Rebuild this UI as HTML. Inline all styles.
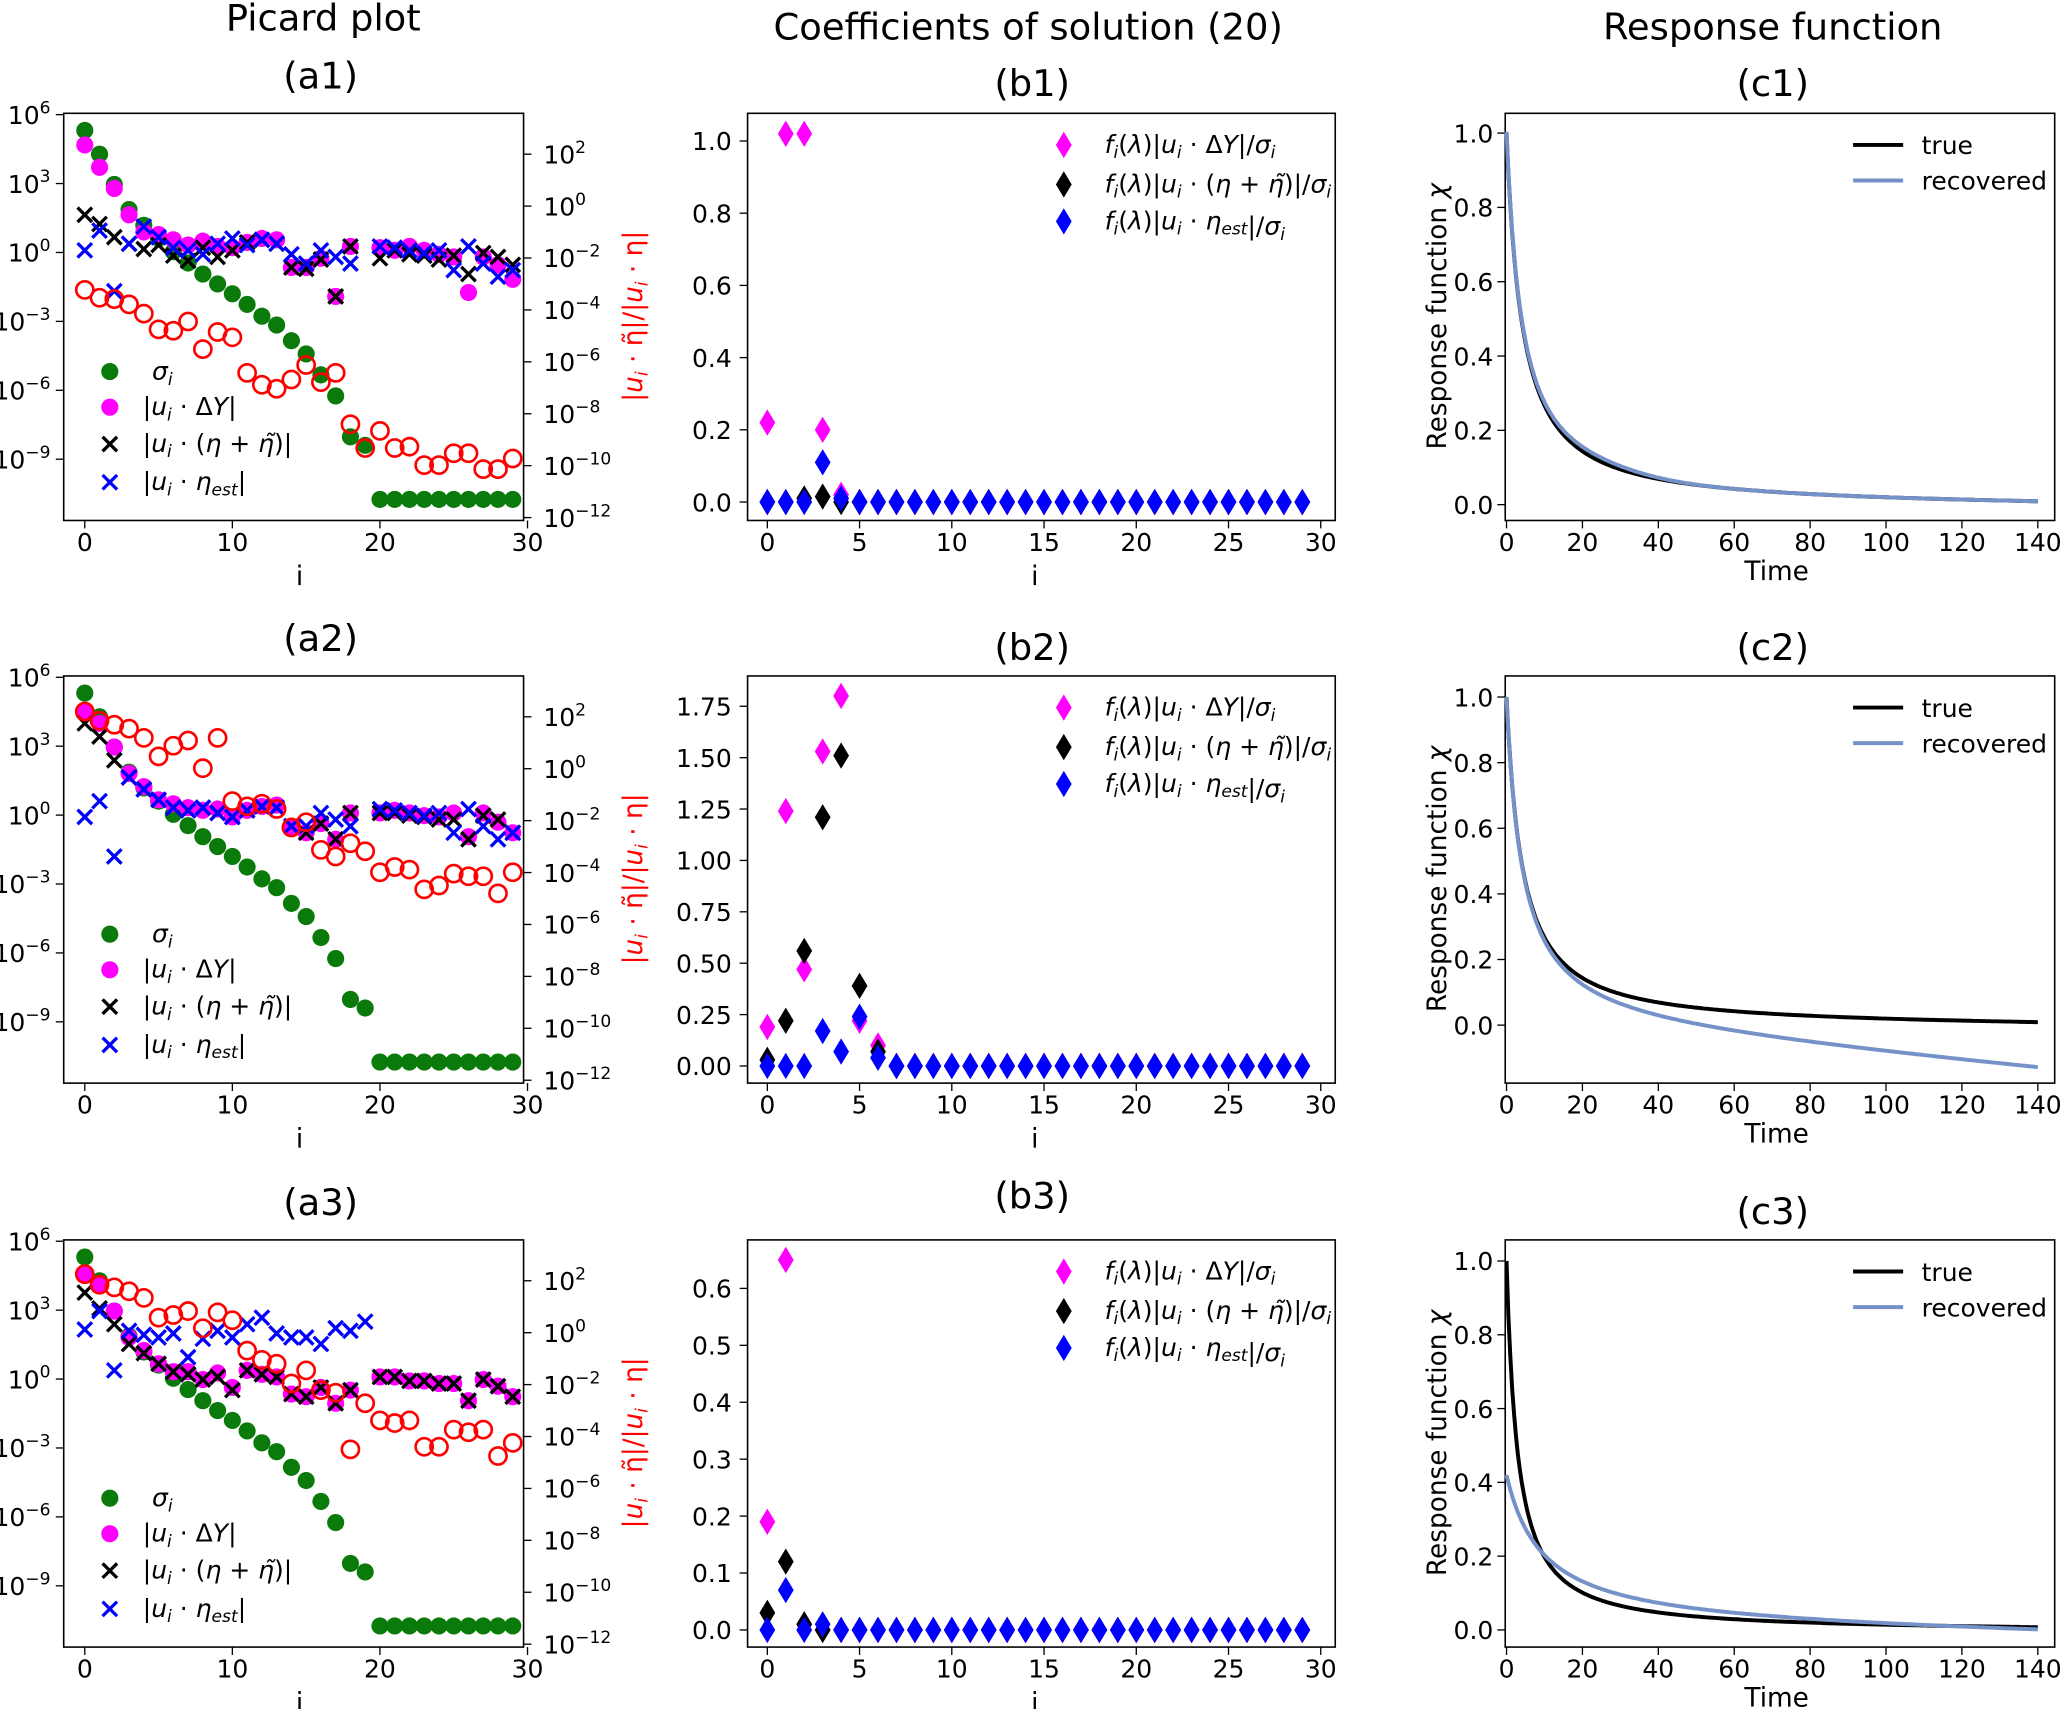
<!DOCTYPE html>
<html><head><meta charset="utf-8"><style>
html,body{margin:0;padding:0;background:#fff}
svg{display:block}
text{font-family:"DejaVu Sans","Liberation Sans",sans-serif;fill:#000}
</style></head><body>
<svg id="s" width="2067" height="1709" viewBox="0 0 1568 1297" xmlns="http://www.w3.org/2000/svg">
<g font-size="28" text-anchor="middle">
<text x="245" y="23">Picard plot</text>
<text x="780" y="30">Coefficients of solution (20)</text>
<text x="1345" y="30">Response function</text>
<text x="243" y="67">(a1)</text><text x="783" y="73">(b1)</text><text x="1345" y="73">(c1)</text>
<text x="243" y="494">(a2)</text><text x="783" y="501">(b2)</text><text x="1345" y="501">(c2)</text>
<text x="243" y="922">(a3)</text><text x="783" y="917">(b3)</text><text x="1345" y="929">(c3)</text>
</g>
<g id="g"></g>
</svg>
<script>
var g=document.getElementById('g'),h='';
function T(x,y,s,o){h+='<text x="'+x+'" y="'+y+'" '+(o||'')+'>'+s+'</text>';}
var offs=[0,427,855];
var green=[99,117,140,159,171,181,191,199.6,208,215.5,223,231,240,246.7,258.6,268.6,284.5,300.5,331.5,338,379,379,379,379,379,379,379,379,379,379];
var mag=[[110,127,143,163,176,178,182,186,183,187,188,184,181,182,203,203,196,225,187,null,188,190,187,190,193,195,222,195,201,212],
[113,122,140,160,170,180,183,186,188,187,193,188,185,184,200,205,198,210,190,null,190,188,190,192,193,190,208,190,197,205],
[113,120,140,160,170,180,186,186,192,187,198,185,188,190,203,205,198,210,200,null,190,190,193,193,195,195,208,192,197,205]];
var blk=[[163,170,180,185,189,186,194,198,188,195,190,184,182,185,203,204,197,225,187,null,196,190,193,194,197,194,208,192,195,201],
[122,132,150,163,172,180,186,188,186,190,193,188,185,186,200,205,198,210,190,null,190,190,192,193,195,195,210,192,195,205],
[126,138,150,165,172,180,186,188,192,190,200,185,188,190,203,205,198,210,200,null,190,190,193,193,195,195,208,192,197,205]];
var blu=[[190,175,221,185,172,180,188,190,193,185,181,186,182,185,193,200,190,195,200,null,187,188,190,192,190,205,187,200,210,205],
[193,181,223,163,172,180,186,188,186,190,193,188,185,186,200,200,190,195,200,null,187,188,190,192,190,205,187,200,210,205],
[154,140,185,155,158,160,157,175,161,155,160,150,145,157,160,160,165,153,155,148]];
var red=[[220,226,227,231,238,250,251,244,265,252,256,283,292,295,288,277,290,283,322,340,327,340,339,353,353,344,344,356,356,348],
[113,120,123,126,133,147,139,135,156,133,181,185,183,187,201,197,218,223,213,219,235,231,233,248,245,236,238,238,251,235],
[112,120,122,125,130,145,143,140,153,141,147,170,177,180,195,185,200,202,245,210,223,225,223,243,243,230,232,230,250,240]];
function X(i){return 64+11.2*i;}
function circ(x,y,c,f){return '<circle cx="'+x+'" cy="'+y+'" r="6.5" fill="'+(f?c:'none')+'" stroke="'+c+'" stroke-width="'+(f?0:2)+'"/>';}
function cross(x,y,c){var d=5.5;return '<path d="M'+(x-d)+' '+(y-d)+'L'+(x+d)+' '+(y+d)+'M'+(x-d)+' '+(y+d)+'L'+(x+d)+' '+(y-d)+'" stroke="'+c+'" stroke-width="2.5"/>';}
function dia(x,y,c){return '<path d="M'+x+' '+(y-10)+'L'+(x+6)+' '+y+'L'+x+' '+(y+10)+'L'+(x-6)+' '+y+'Z" fill="'+c+'"/>';}
var sup=['6','3','0','−3','−6','−9'],rs=['2','0','−2','−4','−6','−8','−10','−12'];
for(var p=0;p<3;p++){var o=offs[p];
 h+='<rect x="48" y="'+(86+o)+'" width="349" height="309" fill="none" stroke="#000" stroke-width="1.2"/>';
 for(var k=0;k<6;k++){var y=87+k*52.3+o;h+='<line x1="48" x2="42" y1="'+y+'" y2="'+y+'" stroke="#000"/>';T(38,y+7,'10<tspan dy="-8" font-size="13">'+sup[k]+'</tspan>','font-size="19" text-anchor="end"');}
 for(var k=0;k<8;k++){var y=117+k*39.4+o;h+='<line x1="397" x2="403" y1="'+y+'" y2="'+y+'" stroke="#000"/>';T(412,y+7,'10<tspan dy="-8" font-size="13">'+rs[k]+'</tspan>','font-size="19"');}
 for(var k=0;k<4;k++){var x=X(k*10);h+='<line x1="'+x+'" x2="'+x+'" y1="'+(395+o)+'" y2="'+(401+o)+'" stroke="#000"/>';T(x,418+o,k*10,'font-size="19" text-anchor="middle"');}
 T(227,444+o,'i','font-size="20" text-anchor="middle"');
 T(0,0,'|<tspan font-style="italic">u<tspan font-size="13" dy="4">i</tspan></tspan><tspan dy="-4"> · η̃|/|</tspan><tspan font-style="italic">u<tspan font-size="13" dy="4">i</tspan></tspan><tspan dy="-4"> · η|</tspan>','font-size="20" fill="red" style="fill:red" text-anchor="middle" transform="translate(487,'+(240+o)+') rotate(-90)"');
 for(var i=0;i<30;i++){h+=circ(X(i),green[i]+o,'#0a7a0a',1);}
 for(var i=0;i<30;i++){if(mag[p][i]!=null)h+=circ(X(i),mag[p][i]+o,'#f0f',1);}
 for(var i=0;i<30;i++){if(blk[p][i]!=null)h+=cross(X(i),blk[p][i]+o,'#000');}
 for(var i=0;i<blu[p].length;i++){if(blu[p][i]!=null)h+=cross(X(i),blu[p][i]+o,'#00f');}
 for(var i=0;i<30;i++){h+=circ(X(i),red[p][i]+o,'red',0);}
 var ly=[282,309,337,366];
 h+=circ(83,ly[0]+o,'#0a7a0a',1)+circ(83,ly[1]+o,'#f0f',1)+cross(83,ly[2]+o,'#000')+cross(83,ly[3]+o,'#00f');
 T(115,ly[0]+6+o,'σ<tspan font-size="13" dy="4">i</tspan>','font-size="19" font-style="italic"');
 T(108,ly[1]+6+o,'|<tspan font-style="italic">u</tspan><tspan font-size="13" dy="4" font-style="italic">i</tspan><tspan dy="-4"> · Δ</tspan><tspan font-style="italic">Y</tspan>|','font-size="19"');
 T(108,ly[2]+6+o,'|<tspan font-style="italic">u</tspan><tspan font-size="13" dy="4" font-style="italic">i</tspan><tspan dy="-4"> · (</tspan><tspan font-style="italic">η</tspan> + <tspan font-style="italic">η̃</tspan>)|','font-size="19"');
 T(108,ly[3]+6+o,'|<tspan font-style="italic">u</tspan><tspan font-size="13" dy="4" font-style="italic">i</tspan><tspan dy="-4"> · </tspan><tspan font-style="italic">η</tspan><tspan font-size="13" dy="4" font-style="italic">est</tspan><tspan dy="-4">|</tspan>','font-size="19"');
}
var bY=[{z:381,s:274,t:[0,0.2,0.4,0.6,0.8,1.0],f:1},{z:809,s:156,t:[0,0.25,0.5,0.75,1,1.25,1.5,1.75],f:2},{z:1237,s:432,t:[0,0.1,0.2,0.3,0.4,0.5,0.6],f:1}];
var bm=[[0.22,1.02,1.02,0.2,0.02],[0.19,1.24,0.47,1.53,1.8,0.22,0.1],[0.19,0.65,0.01]];
var bk=[[0,0,0.01,0.015],[0.03,0.22,0.56,1.21,1.51,0.39,0.07],[0.03,0.12,0.01,0]];
var bb=[[0,0,0,0.11,0.01],[0,0,0,0.17,0.07,0.24,0.04],[0,0.07,0,0.01]];
function BX(i){return 582+14*i;}
for(var p=0;p<3;p++){var o=offs[p],B=bY[p];
 h+='<rect x="567" y="'+(86+o)+'" width="446" height="309" fill="none" stroke="#000" stroke-width="1.2"/>';
 B.t.forEach(function(v){var y=B.z-v*B.s;h+='<line x1="567" x2="561" y1="'+y+'" y2="'+y+'" stroke="#000"/>';T(555,y+7,v.toFixed(B.f),'font-size="19" text-anchor="end"');});
 for(var k=0;k<7;k++){var x=BX(k*5);h+='<line x1="'+x+'" x2="'+x+'" y1="'+(395+o)+'" y2="'+(401+o)+'" stroke="#000"/>';T(x,418+o,k*5,'font-size="19" text-anchor="middle"');}
 T(785,444+o,'i','font-size="20" text-anchor="middle"');
 for(var i=0;i<30;i++)h+=dia(BX(i),B.z-(bm[p][i]||0)*B.s,'#f0f');
 for(var i=0;i<30;i++)h+=dia(BX(i),B.z-(bk[p][i]||0)*B.s,'#000');
 for(var i=0;i<30;i++)h+=dia(BX(i),B.z-(bb[p][i]||0)*B.s,'#00f');
 var ly=[110,140,168],c=['#f0f','#000','#00f'];
 var pre='<tspan font-style="italic">f</tspan><tspan font-size="13" dy="4" font-style="italic">i</tspan><tspan dy="-4">(</tspan><tspan font-style="italic">λ</tspan>)|<tspan font-style="italic">u</tspan><tspan font-size="13" dy="4" font-style="italic">i</tspan><tspan dy="-4"> · </tspan>';
 var post='|/<tspan font-style="italic">σ</tspan><tspan font-size="13" dy="4" font-style="italic">i</tspan>';
 var mid=['Δ<tspan font-style="italic">Y</tspan>','(<tspan font-style="italic">η</tspan> + <tspan font-style="italic">η̃</tspan>)','<tspan font-style="italic">η</tspan><tspan font-size="13" dy="4" font-style="italic">est</tspan><tspan dy="-4"></tspan>'];
 for(var k=0;k<3;k++){h+=dia(807,ly[k]+o,c[k]);T(838,ly[k]+6+o,pre+mid[k]+post,'font-size="19"');}
}
var cY=[{z:383,s:282,t:[0,0.2,0.4,0.6,0.8,1.0]},{z:778,s:249,t:[0,0.2,0.4,0.6,0.8,1.0]},{z:1237,s:280,t:[0,0.2,0.4,0.6,0.8,1.0]}];
function CX(t){return 1143+2.88*t;}
function tru(t){return Math.pow(1+t/5,-1.2)-0.00006*t;}
function tru3(t){return Math.pow(1+t/3.5,-1.2)-0.00003*t;}
var trs=[tru,tru,tru3];
var rec=[function(t){return tru(t)+0.012*Math.exp(-Math.pow((t-20)/18,2));},function(t){return tru(t)-0.00098*t;},function(t){return 0.42/(1+t/9.5)-0.00018*t;}];
for(var p=0;p<3;p++){var C=cY[p];var o=offs[p];
 h+='<rect x="1142" y="'+(86+o)+'" width="417" height="309" fill="none" stroke="#000" stroke-width="1.2"/>';
 C.t.forEach(function(v){var y=C.z-v*C.s;h+='<line x1="1142" x2="1136" y1="'+y+'" y2="'+y+'" stroke="#000"/>';T(1133,y+7,v.toFixed(1),'font-size="19" text-anchor="end"');});
 for(var k=0;k<8;k++){var x=CX(k*20);h+='<line x1="'+x+'" x2="'+x+'" y1="'+(395+o)+'" y2="'+(401+o)+'" stroke="#000"/>';T(x,418+o,k*20,'font-size="19" text-anchor="middle"');}
 T(1348,440+o,'Time','font-size="20" text-anchor="middle"');
 T(0,0,'Response function <tspan font-style="italic">χ</tspan>','font-size="20" text-anchor="middle" transform="translate(1097,'+(240+o)+') rotate(-90)"');
 var a='',b='';
 for(var t=0;t<=140;t+=0.5){a+=(t?'L':'M')+CX(t).toFixed(1)+' '+(C.z-trs[p](t)*C.s).toFixed(1);b+=(t?'L':'M')+CX(t).toFixed(1)+' '+(C.z-rec[p](t)*C.s).toFixed(1);}
 h+='<path d="'+a+'" fill="none" stroke="#000" stroke-width="3"/><path d="'+b+'" fill="none" stroke="#7592c8" stroke-width="3"/>';
 h+='<line x1="1406" x2="1444" y1="'+(110+o)+'" y2="'+(110+o)+'" stroke="#000" stroke-width="3"/>';
 h+='<line x1="1406" x2="1444" y1="'+(137+o)+'" y2="'+(137+o)+'" stroke="#7592c8" stroke-width="3"/>';
 T(1458,117+o,'true','font-size="19"');T(1458,144+o,'recovered','font-size="19"');
}
g.innerHTML=h;
</script>
</body></html>
